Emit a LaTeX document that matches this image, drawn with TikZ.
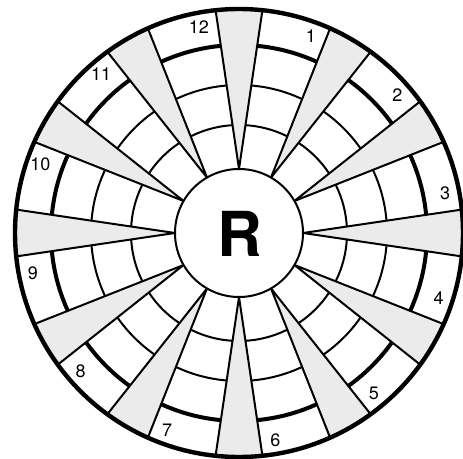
\documentclass[tikz,border=0pt]{standalone}
\usepackage{fontspec}
\setmainfont{TeX Gyre Heros}
\usetikzlibrary{positioning}
\definecolor{wedgeGray}{gray}{0.92}

\begin{document}
\begin{tikzpicture}[x=1pt, y=1pt,
    thinring/.style={line width=2pt},
    heavyring/.style={line width=4pt},
    wedge/.style={fill=wedgeGray, draw=black, line width=2pt, line join=round},
    num/.style={font=\fontsize{18}{18}\selectfont, inner sep=0pt},
  ]
  \useasboundingbox (0,0) rectangle (463,458);
  \clip (0,0) rectangle (463,458);

  \begin{scope}[shift={(239,225)}]
    % rings of the cells
    \fill[white] (0,0) circle[radius=224];
    \draw[thinring] (0,0) circle[radius=108];
    \draw[thinring] (0,0) circle[radius=148];
    \draw[heavyring] (0,0) circle[radius=188];

    % grey wedges between the sectors
    \foreach \a in {0,30,...,330}
      \filldraw[wedge] (\a:64) -- (\a-6:224)
        arc[start angle=\a-6, end angle=\a+6, radius=224] -- cycle;

    % centre
    \draw[thinring, fill=white] (0,0) circle[radius=64];
    \node[font=\bfseries\fontsize{62}{62}\selectfont, inner sep=0pt] (R) at (1,-1) {R};

    % outer rim
    \draw[line width=4.4pt] (0,0) circle[radius=224];

    % sector numbers
    \foreach \lbl/\ang in {12/101, 1/70, 2/41, 3/11, 4/-18, 5/-50,
                           6/-80, 7/-110, 8/-139, 9/-169, 10/161, 11/131}
      \node[num] (n\lbl) at (\ang:210) {\lbl};
  \end{scope}
\end{tikzpicture}
\end{document}
